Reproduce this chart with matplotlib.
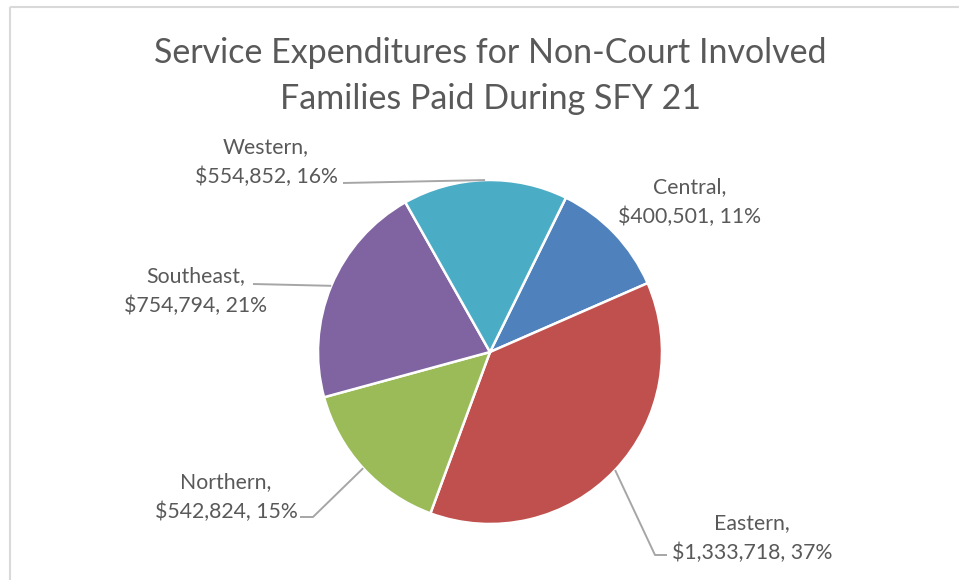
import matplotlib
matplotlib.use("Agg")
import matplotlib.pyplot as plt
from matplotlib.patches import Rectangle
import numpy as np

regions = ["Central", "Eastern", "Northern", "Southeast", "Western"]
amounts = [400501, 1333718, 542824, 754794, 554852]
pct_labels = [11, 37, 15, 21, 16]
colors = ["#4F81BD", "#C0504D", "#9BBB59", "#8064A2", "#4BACC6"]
title = "Service Expenditures for Non-Court Involved\nFamilies Paid During SFY 21"

W, H = 959, 580
fig = plt.figure(figsize=(W / 100, H / 100), dpi=100)
ax = fig.add_axes([0, 0, 1, 1])

def Y(y):
    return H - y

cx, cy, R = 490, Y(352), 172
wedges, _ = ax.pie(amounts, colors=colors, startangle=63.8, counterclock=False,
                   radius=R, center=(cx, cy),
                   wedgeprops=dict(edgecolor="white", linewidth=1.8))
ax.set_xlim(0, W)
ax.set_ylim(0, H)
ax.set_aspect("equal")
ax.axis("off")

# chart border
ax.add_patch(Rectangle((10, Y(7)), W, -H, fill=False, edgecolor="#D9D9D9",
                       linewidth=1.5, zorder=0))

txt_color = "#595959"
font = "Lato"
ax.text(490, Y(76), title, ha="center", va="center", fontsize=24.5,
        color=txt_color, family=font, linespacing=1.57)

# label layout (center x, center y of two-line block)
label_pos = {
    "Central": (690, 202),
    "Eastern": (752, 538),
    "Northern": (226, 497),
    "Southeast": (196, 291),
    "Western": (266, 162),
}
for name, amt, pct in zip(regions, amounts, pct_labels):
    x, y = label_pos[name]
    ax.text(x, Y(y), f"{name},\n${amt:,}, {pct}%", ha="center", va="center",
            fontsize=15.3, color=txt_color, family=font, linespacing=1.62)

def edge_point(w):
    a = np.deg2rad((w.theta1 + w.theta2) / 2)
    return cx + R * np.cos(a), cy + R * np.sin(a)

leaders = {
    "Western": [(343, 183)],
    "Southeast": [(253, 284)],
    "Northern": [(300, 517), (313, 517)],
    "Eastern": [(667, 555), (655, 555)],
}
lc = "#A6A6A6"
for name, w in zip(regions, wedges):
    if name not in leaders:
        continue
    ex, ey = edge_point(w)
    pts = [(px, Y(py)) for px, py in leaders[name]] + [(ex, ey)]
    xs, ys = zip(*pts)
    ax.plot(xs, ys, color=lc, linewidth=1.4, solid_capstyle="butt", zorder=3)

fig.savefig("out.png", dpi=100, facecolor="white")
